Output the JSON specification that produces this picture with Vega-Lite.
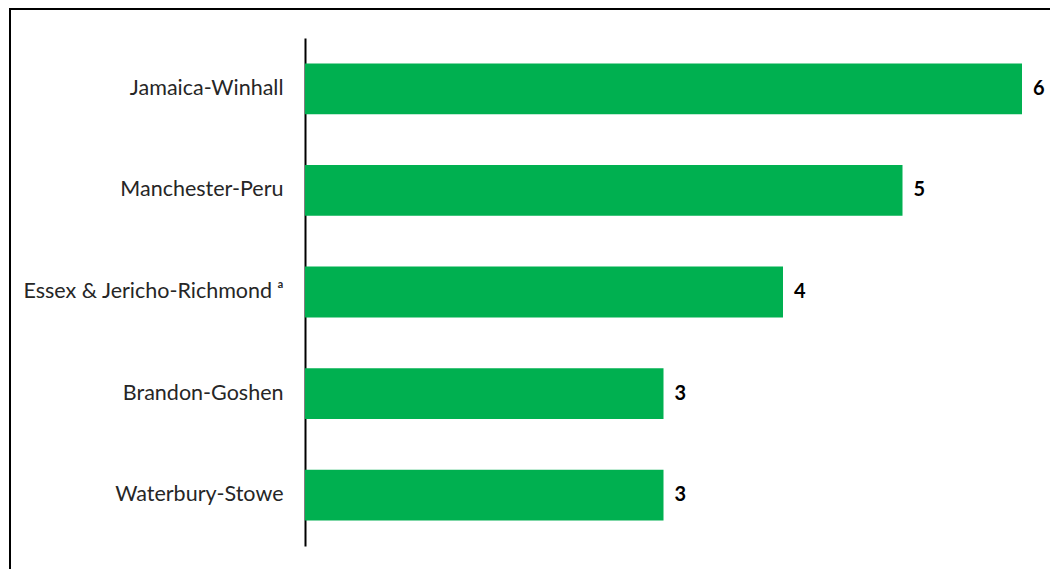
{
  "$schema": "https://vega.github.io/schema/vega-lite/v6.json",
  "autosize": {"type": "none"},
  "padding": {"left": 10, "top": 9, "right": 0, "bottom": 0},
  "width": 1045,
  "height": 565,
  "background": "white",
  "config": {"view": {"stroke": "black", "strokeWidth": 2}},
  "data": {"values": [
    {"district": "Jamaica-Winhall", "value": 6},
    {"district": "Manchester-Peru", "value": 5},
    {"district": "Essex & Jericho-Richmond ᵃ", "value": 4},
    {"district": "Brandon-Goshen", "value": 3},
    {"district": "Waterbury-Stowe", "value": 3}
  ]},
  "encoding": {
    "y": {"field": "district", "type": "nominal", "sort": null,
      "scale": {"range": [29, 537], "paddingInner": 0.5, "paddingOuter": 0.25},
      "axis": {"title": null, "orient": "left", "offset": -295, "ticks": false, "grid": false,
        "domain": true, "domainColor": "black", "domainWidth": 2,
        "labelFont": "Lato", "labelFontSize": 21.5, "labelColor": "#262626", "labelPadding": 22, "labelLimit": 400}},
    "x": {"field": "value", "type": "quantitative",
      "scale": {"domain": [0, 6], "range": [295, 1012], "nice": false}, "axis": null}
  },
  "layer": [
    {"mark": {"type": "bar", "color": "#00B050"}},
    {"mark": {"type": "text", "align": "left", "baseline": "middle", "dx": 11, "font": "Lato", "fontSize": 20, "fontWeight": "bold", "color": "black"},
     "encoding": {"text": {"field": "value", "type": "quantitative"}}}
  ]
}
